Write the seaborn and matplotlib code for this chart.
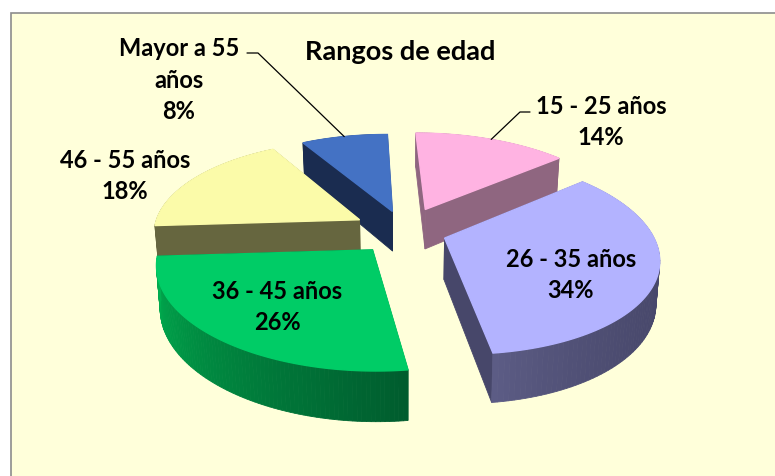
import numpy as np
import matplotlib
matplotlib.use('Agg')
import matplotlib.pyplot as plt
import seaborn as sns

# slices, clockwise from the top
labels = ['15 - 25 años', '26 - 35 años', '36 - 45 años', '46 - 55 años', 'Mayor a 55\naños']
values = [14, 34, 26, 18, 8]
title = 'Rangos de edad'

top_colors = ['#FFB3E2', '#B3B3FF', '#00CC66', '#FBFBA9', '#4472C4']
wall_start = ['#8F6680', '#47476A', '#005C2E', '#66663F', '#1A2C50']
wall_end = ['#8F6680', '#5C5C85', '#00B050', '#66663F', '#1A2C50']
cut_colors = ['#8F6680', '#47476A', '#005C2E', '#66663F', '#1A2C50']
explode = [0.26, 0.20, 0.25, 0.25, 0.22]
draw_order = [4, 0, 3, 1, 2]

sns.set_theme(style='white')
plt.rcParams['font.family'] = ['Lato', 'DejaVu Sans']

CX, CY, RX, RY = 405, 232, 207, 95
K, SHIFT, DEPTH, LEAN = 0.16, 50, 41, 0.985


def project(u, v, low=False):
    w = 1 + K * v
    x = RX * u / w + SHIFT * (1 / w - 1)
    y = -RY * v / w
    if low:
        return CX + x * LEAN, CY + y + DEPTH / w
    return CX + x, CY + y


fig = plt.figure(figsize=(7.75, 4.77), dpi=100)
ax = fig.add_axes([0, 0, 1, 1])
ax.set_xlim(0, 775)
ax.set_ylim(477, 0)
ax.axis('off')
ax.add_patch(plt.Rectangle((10.5, 13.5), 780, 480, fc='#FFFFDA', ec='#8C8C8C', lw=1.2))

edges = np.concatenate([[0], np.cumsum(values)]) / sum(values) * 2 * np.pi


def slice_points(i, t):
    mid = (edges[i] + edges[i + 1]) / 2
    return explode[i] * np.sin(mid) + np.sin(t), explode[i] * np.cos(mid) + np.cos(t)


for z, i in enumerate(draw_order):
    base = 10 + z * 10
    t = np.linspace(edges[i], edges[i + 1], 90)
    u, v = slice_points(i, t)
    mid = (edges[i] + edges[i + 1]) / 2
    au, av = explode[i] * np.sin(mid), explode[i] * np.cos(mid)

    # the two cut faces
    for end in (0, -1):
        tx, ty = project(np.array([au, u[end]]), np.array([av, v[end]]))
        lx, ly = project(np.array([au, u[end]]), np.array([av, v[end]]), low=True)
        ax.fill([tx[0], tx[1], lx[1], lx[0]], [ty[0], ty[1], ly[1], ly[0]],
                color=cut_colors[i], lw=0.6, zorder=base)

    # outer wall, shaded along the arc
    shades = sns.blend_palette([wall_start[i], wall_end[i]], 90)
    tx, ty = project(u, v)
    lx, ly = project(u, v, low=True)
    for s in range(len(t) - 1):
        pos = s / 88
        if i == 1:
            pos = pos ** 4
        color = shades[int(pos * 89)]
        ax.fill([tx[s], tx[s + 1], lx[s + 1], lx[s]], [ty[s], ty[s + 1], ly[s + 1], ly[s]],
                color=color, lw=0.6, zorder=base + 1)

    # top surface
    ax_x, ax_y = project(au, av)
    ax.fill(np.r_[ax_x, tx], np.r_[ax_y, ty], color=top_colors[i], lw=1.0, zorder=base + 2)

text_style = dict(ha='center', va='center', fontsize=17, fontweight='bold', color='black',
                  linespacing=1.45, zorder=100)
ax.text(400, 52, title, **{**text_style, 'fontsize': 19.5})
ax.text(601, 122, f'{labels[0]}\n{values[0]}%', **text_style)
ax.text(571, 275, f'{labels[1]}\n{values[1]}%', **text_style)
ax.text(277, 307, f'{labels[2]}\n{values[2]}%', **text_style)
ax.text(125, 176, f'{labels[3]}\n{values[3]}%', **text_style)
ax.text(179, 80, f'{labels[4]}\n{values[4]}%', **text_style)

# leader lines go from the label to the middle of the slice rim
for i, (ex, ey, tail) in {0: (520, 113, 530), 4: (258, 54, 247)}.items():
    mid = (edges[i] + edges[i + 1]) / 2
    rx, ry = project(*slice_points(i, mid))
    ax.plot([tail, ex, rx], [ey, ey, ry], color='black', lw=0.9, zorder=99)

fig.savefig('out.png', dpi=100)
